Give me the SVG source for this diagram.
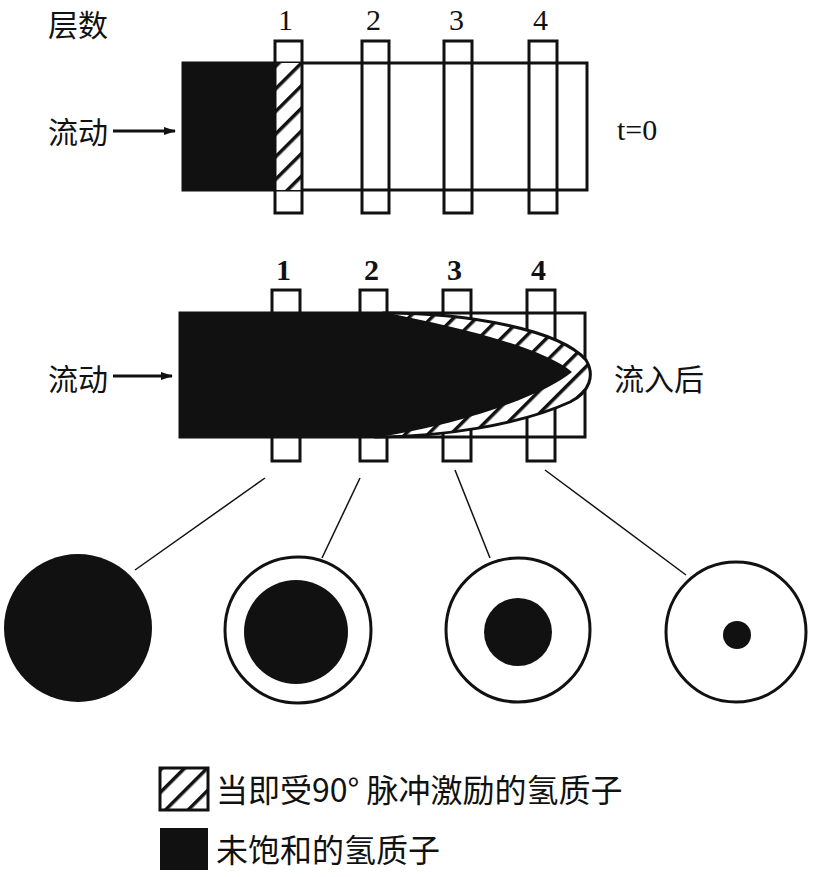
<svg xmlns="http://www.w3.org/2000/svg" width="813" height="877" viewBox="0 0 813 877">
<defs>
<pattern id="h" patternUnits="userSpaceOnUse" width="16" height="16" patternTransform="rotate(45)">
<rect width="16" height="16" fill="#fff"/><rect x="0" y="0" width="3.5" height="16" fill="#111"/>
</pattern>
<marker id="a" markerWidth="12" markerHeight="8" refX="11" refY="4" orient="auto" markerUnits="userSpaceOnUse"><path d="M0,0 L12,4 L0,8 Z" fill="#111"/></marker>
</defs>
<style>
text{font-family:"Liberation Serif","Noto Sans CJK SC",serif;font-size:30px;fill:#111}
.cj{font-family:"Noto Sans CJK SC",sans-serif;font-size:30px}
.lg{font-family:"Noto Sans CJK SC",sans-serif;font-size:32px}
.s{fill:none;stroke:#111;stroke-width:3}
.sf{fill:#fff;stroke:#111;stroke-width:3}
.b{fill:#111}
</style>
<rect width="813" height="877" fill="#fff"/>
<g id="top">
<text class="cj" x="48" y="36">层数</text>
<text x="278" y="30">1</text><text x="366" y="30">2</text><text x="449" y="30">3</text><text x="533" y="30">4</text>
<rect class="s" x="183" y="63" width="404" height="127"/>
<rect class="b" x="183" y="63" width="93" height="127"/>
<rect x="276" y="63" width="26" height="127" fill="url(#h)"/>
<rect class="s" x="275" y="41" width="27" height="172"/>
<rect class="s" x="362" y="41" width="27" height="172"/>
<rect class="s" x="444" y="41" width="28" height="172"/>
<rect class="s" x="529" y="41" width="28" height="172"/>
<text class="cj" x="48" y="143">流动</text>
<line class="s" x1="113" y1="131" x2="175" y2="131" marker-end="url(#a)"/>
<text x="617" y="140">t=0</text>
</g>
<g id="mid">
<text x="276" y="280" font-weight="bold">1</text><text x="364" y="280" font-weight="bold">2</text><text x="447" y="280" font-weight="bold">3</text><text x="531" y="280" font-weight="bold">4</text>
<rect class="sf" x="272" y="290" width="28" height="171"/>
<rect class="sf" x="360" y="290" width="27" height="171"/>
<rect class="sf" x="443" y="290" width="28" height="171"/>
<rect class="sf" x="527" y="290" width="28" height="171"/>
<rect class="s" x="180" y="313" width="405" height="124"/>
<path d="M384,313 C470,313 560,330 586,360 C595,375 590,392 570,402 C520,425 440,437 376,437 Z" fill="url(#h)" stroke="#111" stroke-width="3"/>
<path d="M180,313 L388,313 C450,326 540,345 572,372 C545,395 460,425 378,437 L180,437 Z" class="b"/>
<text class="cj" x="48" y="390">流动</text>
<line class="s" x1="113" y1="376" x2="172" y2="376" marker-end="url(#a)"/>
<text class="cj" x="614" y="390">流入后</text>
</g>
<g id="connectors" stroke="#111" stroke-width="1.5">
<line x1="265" y1="478" x2="135" y2="570"/>
<line x1="360" y1="478" x2="322" y2="558"/>
<line x1="455" y1="470" x2="490" y2="558"/>
<line x1="545" y1="470" x2="686" y2="575"/>
</g>
<g id="circles">
<circle class="b" cx="78" cy="628" r="74"/>
<circle class="sf" cx="298" cy="630" r="73"/><circle class="b" cx="296" cy="632" r="52"/>
<circle class="sf" cx="518" cy="630" r="72"/><circle class="b" cx="518" cy="632" r="34"/>
<circle class="sf" cx="736" cy="632" r="70"/><circle class="b" cx="737" cy="635" r="14"/>
</g>
<g id="legend">
<rect x="160" y="768" width="48" height="42" fill="url(#h)" stroke="#111" stroke-width="3"/>
<text class="lg" x="216" y="802">当即受90°  脉冲激励的氢质子</text>
<rect class="b" x="160" y="828" width="48" height="42"/>
<text class="lg" x="216" y="862">未饱和的氢质子</text>
</g>
</svg>
